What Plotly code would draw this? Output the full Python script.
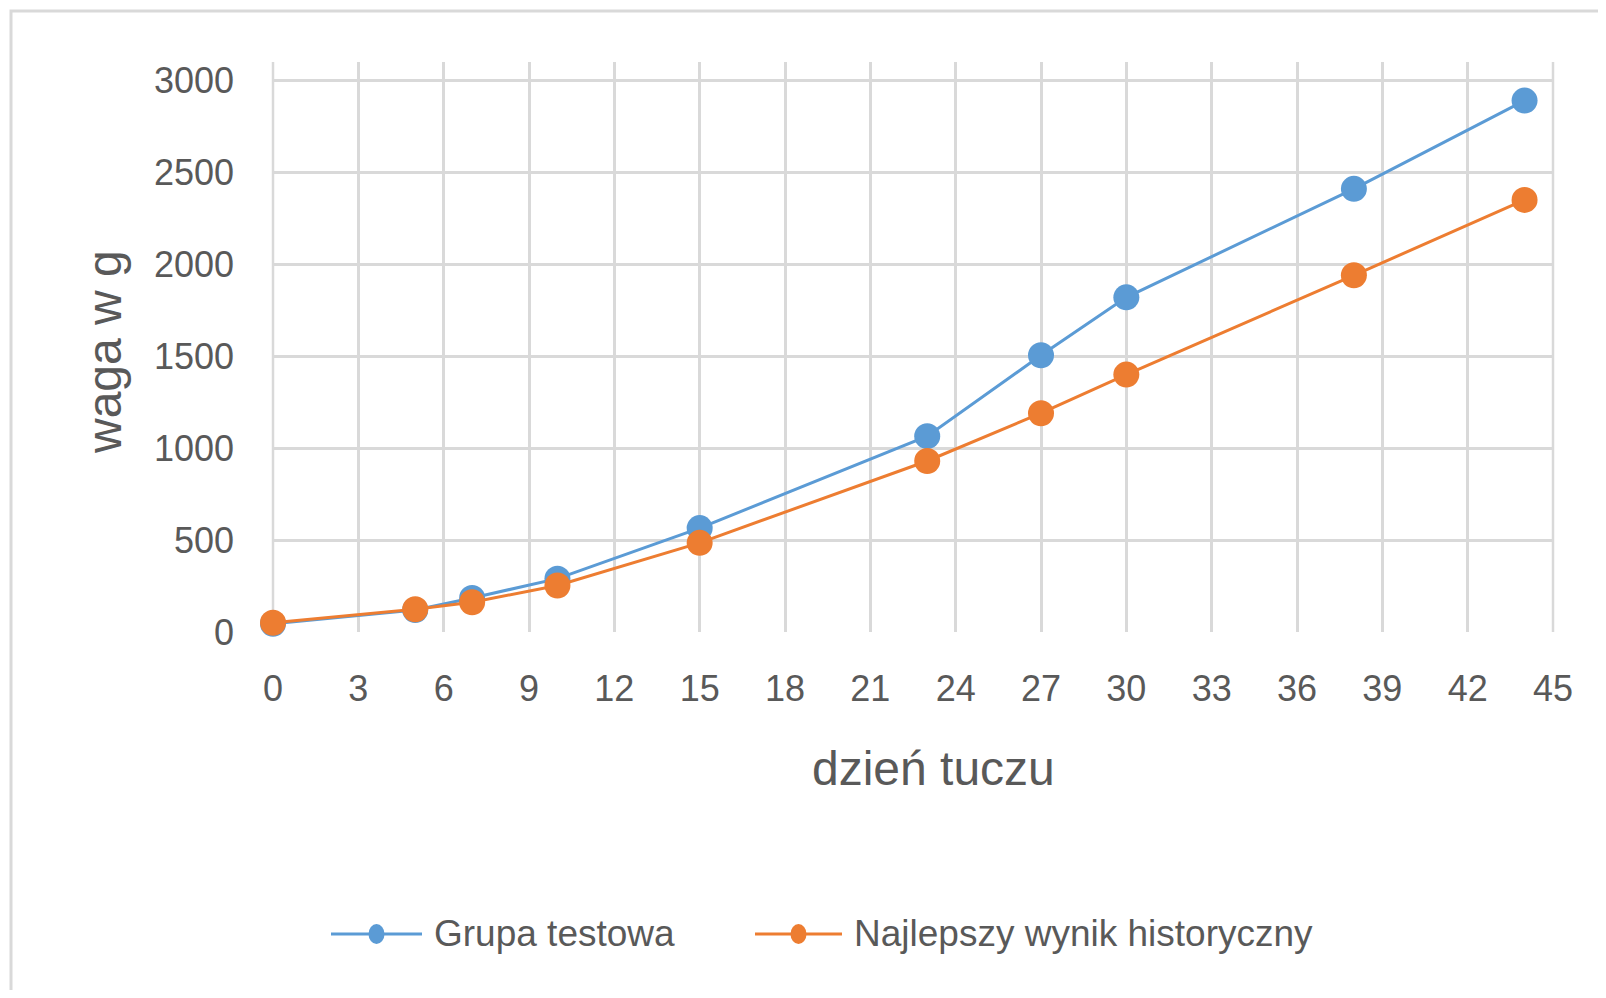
import plotly.graph_objects as go

days = [0, 5, 7, 10, 15, 23, 27, 30, 38, 44]
grupa_testowa = [45, 120, 185, 290, 565, 1065, 1505, 1820, 2410, 2890]
najlepszy_wynik = [50, 124, 162, 253, 485, 930, 1190, 1400, 1940, 2350]
series_names = ["Grupa testowa", "Najlepszy wynik historyczny"]

x_ticks = list(range(0, 46, 3))
y_ticks = [0, 500, 1000, 1500, 2000, 2500, 3000]

BLUE = "#5b9bd5"
ORANGE = "#ed7d31"
GRID = "#d9d9d9"
TEXT = "#595959"
FONT = "Liberation Sans"

# page body has an 8px margin; work in screen pixels and convert
O = 8
SW, SH = 1606, 998
W, H = SW - 2 * O, SH - 2 * O
# plot area in screen pixels
PL, PR, PT, PB = 273, 1553, 62, 632
L, T = PL - O, PT - O
R, B = W - (PR - O), H - (PB - O)
pw, ph = PR - PL, PB - PT

def px(xs):
    return (xs - PL) / pw

def py(ys):
    return (PB - ys) / ph

fig = go.Figure()
fig.add_trace(go.Scatter(
    x=days, y=grupa_testowa, name=series_names[0], mode="lines+markers", showlegend=False,
    cliponaxis=False,
    line=dict(color=BLUE, width=3), marker=dict(color=BLUE, size=26)))
fig.add_trace(go.Scatter(
    x=days, y=najlepszy_wynik, name=series_names[1], mode="lines+markers", showlegend=False,
    cliponaxis=False,
    line=dict(color=ORANGE, width=3), marker=dict(color=ORANGE, size=26)))

shapes = [
    dict(type="rect", xref="paper", yref="paper", x0=px(11), x1=px(1660), y0=py(1060), y1=py(11),
         line=dict(color=GRID, width=3), fillcolor="rgba(0,0,0,0)", layer="below"),
    dict(type="line", xref="paper", yref="paper", x0=0, x1=0, y0=0, y1=1,
         line=dict(color=GRID, width=2.5), layer="below"),
    dict(type="line", xref="paper", yref="paper", x0=1, x1=1, y0=0, y1=1,
         line=dict(color=GRID, width=2.5), layer="below"),
]
annotations = [
    dict(text="dzień tuczu", xref="paper", yref="paper", x=px(933), y=py(768),
         xanchor="center", yanchor="middle", showarrow=False,
         font=dict(size=48, color=TEXT, family=FONT)),
    dict(text="waga w g", xref="paper", yref="paper", x=px(104), y=py(352),
         xanchor="center", yanchor="middle", showarrow=False, textangle=-90,
         font=dict(size=48, color=TEXT, family=FONT)),
]

# legend (drawn manually to match long line samples)
leg_y = 934
leg_items = [(series_names[0], BLUE, 331, 422, 432), (series_names[1], ORANGE, 755, 842, 852)]
for name, col, lx0, lx1, tx in leg_items:
    cy = py(leg_y)
    shapes.append(dict(type="line", xref="paper", yref="paper", x0=px(lx0), x1=px(lx1), y0=cy, y1=cy,
                       line=dict(color=col, width=3)))
    cx = (lx0 + lx1) / 2
    shapes.append(dict(type="circle", xref="paper", yref="paper",
                       x0=px(cx - 8), x1=px(cx + 8), y0=py(leg_y + 10), y1=py(leg_y - 10),
                       line=dict(color=col, width=0), fillcolor=col))
    annotations.append(dict(text=name, xref="paper", yref="paper", x=px(tx), y=cy,
                            xanchor="left", yanchor="middle", showarrow=False,
                            font=dict(size=37, color=TEXT, family=FONT)))

fig.update_layout(
    width=W, height=H,
    margin=dict(l=L, r=R, t=T, b=B),
    paper_bgcolor="white", plot_bgcolor="white",
    font=dict(family=FONT, color=TEXT, size=36),
    showlegend=False,
    xaxis=dict(range=[0, 45], tickvals=x_ticks, showgrid=True, gridcolor=GRID, gridwidth=2.5,
               zeroline=False, showline=False, ticks="", ticklabelstandoff=32,
               tickfont=dict(size=36, color=TEXT, family=FONT), fixedrange=True),
    yaxis=dict(range=[0, 3100], tickvals=y_ticks, showgrid=True, gridcolor=GRID, gridwidth=2.5,
               zeroline=False, showline=False, ticks="", ticklabelstandoff=38,
               tickfont=dict(size=36, color=TEXT, family=FONT), fixedrange=True),
    shapes=shapes,
    annotations=annotations,
)

fig.write_html("out.html")
